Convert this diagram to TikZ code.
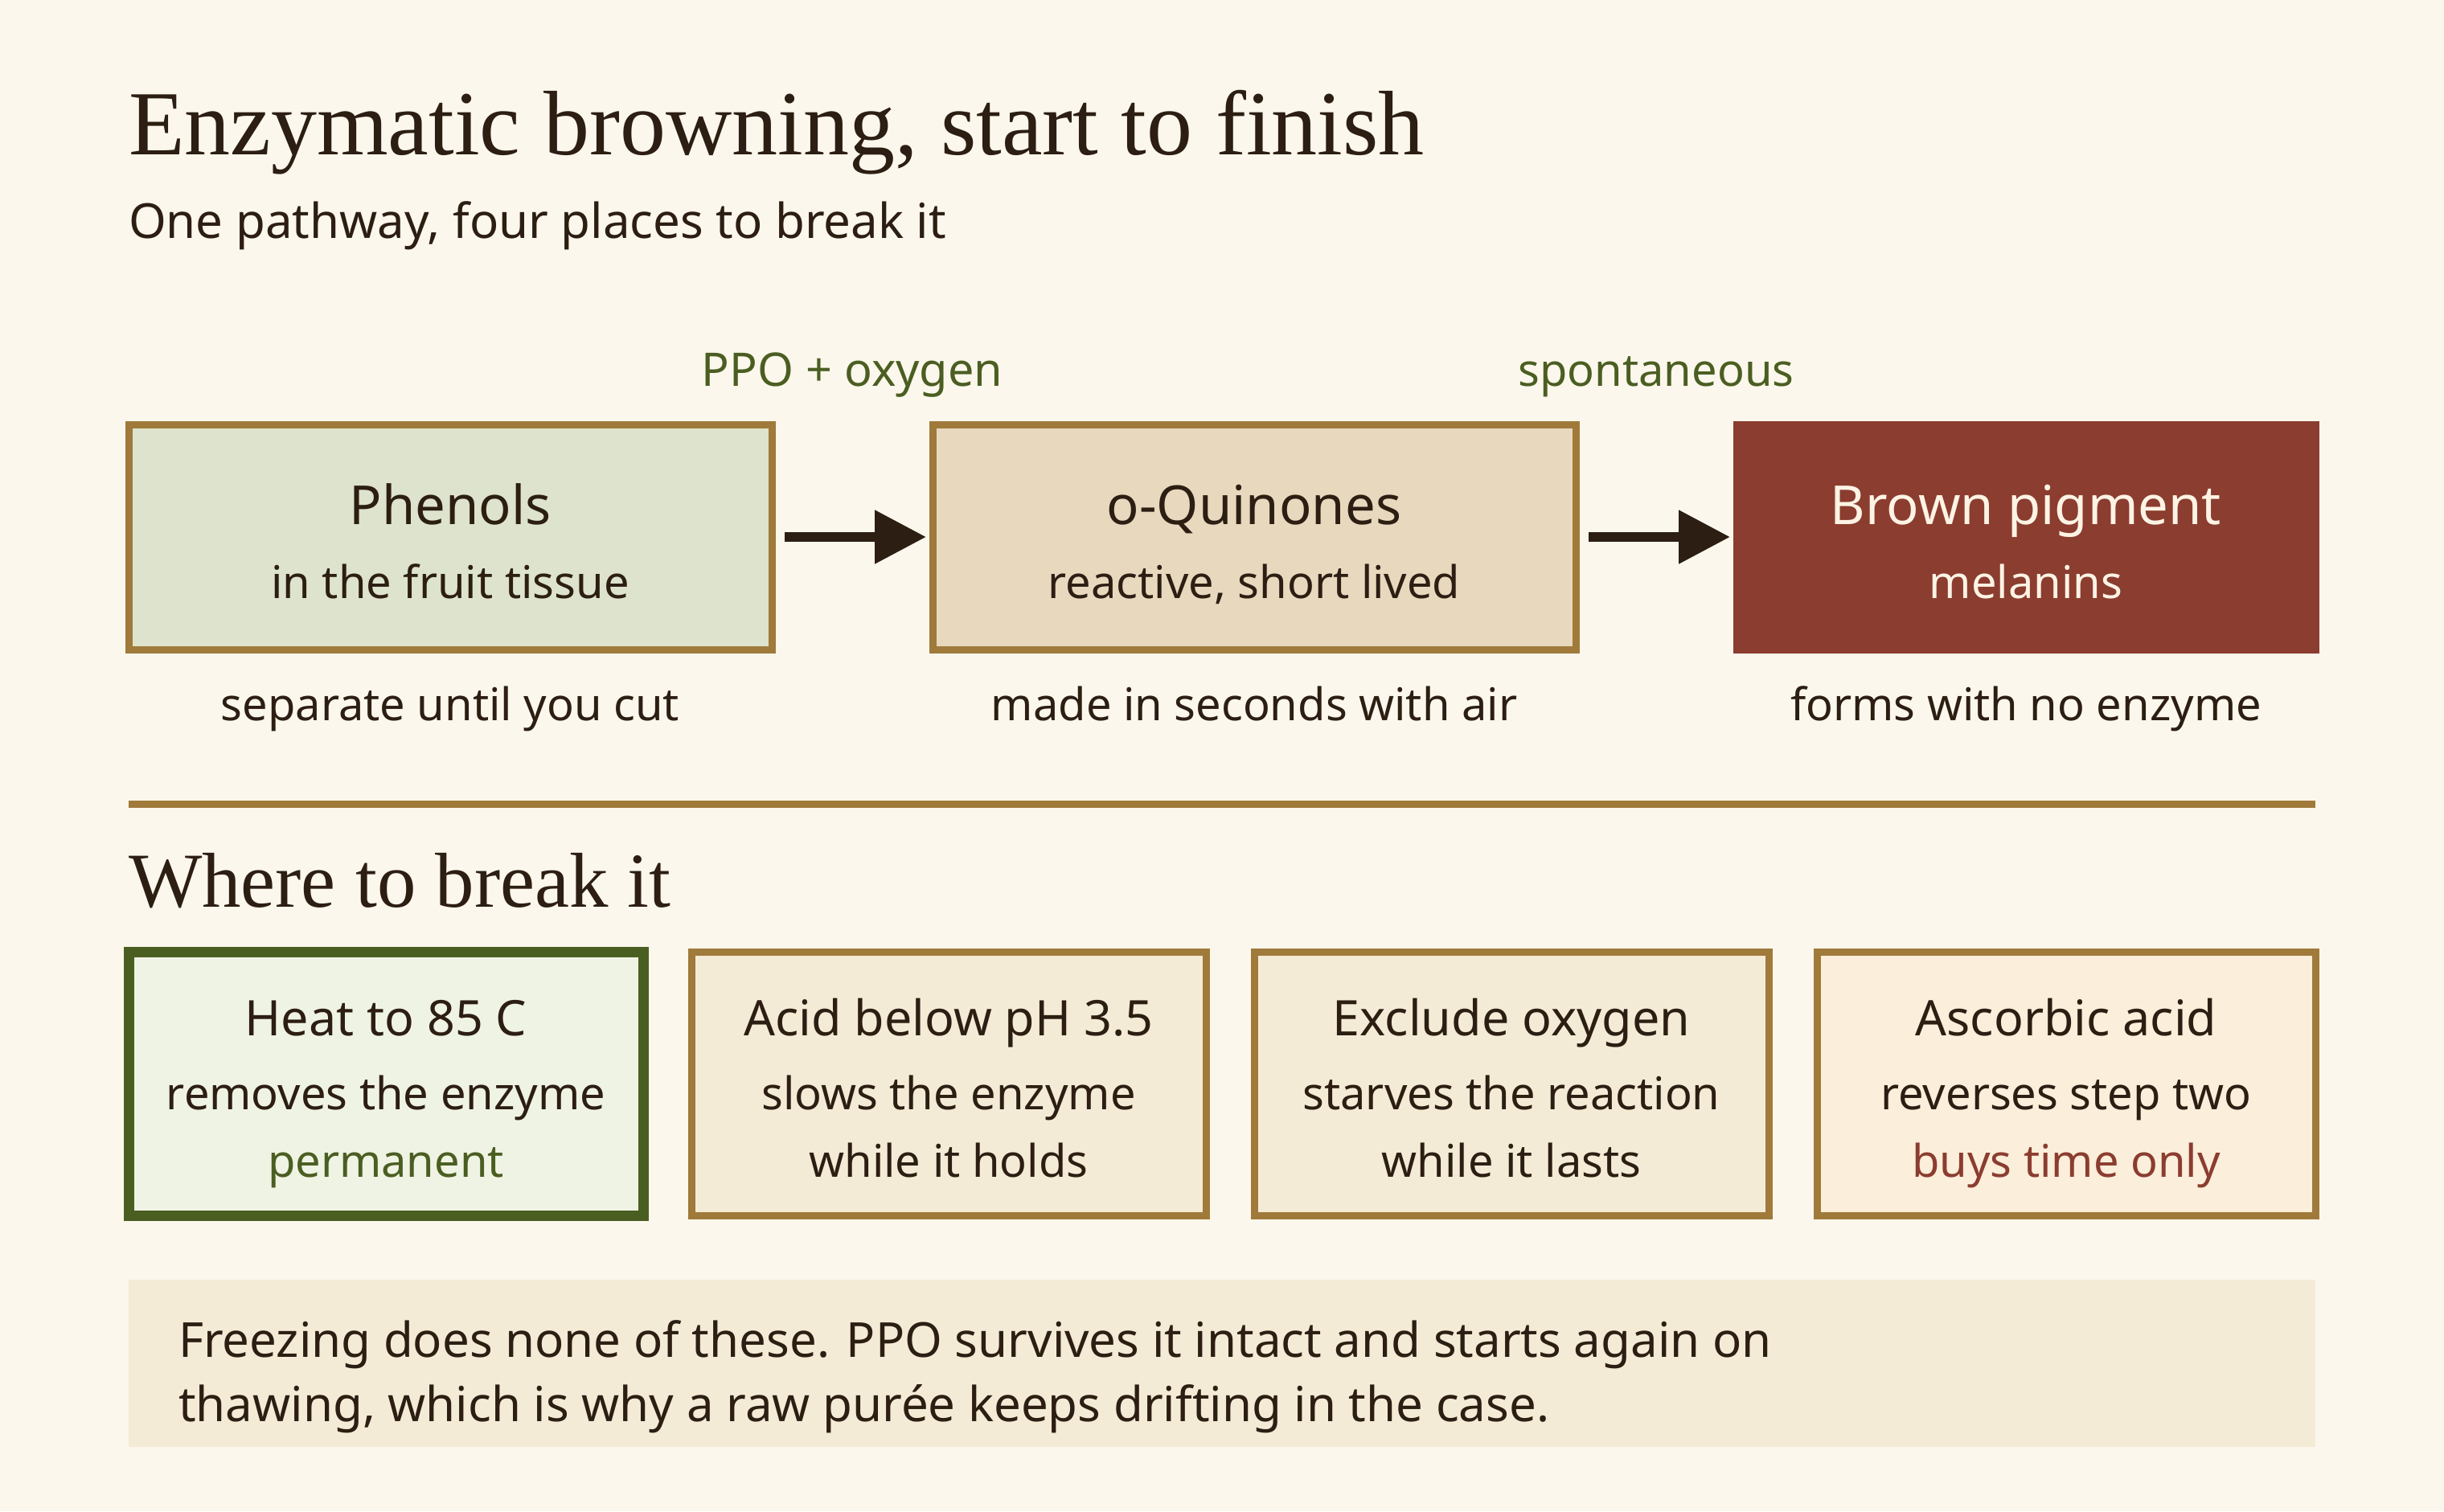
\documentclass[tikz,border=0pt]{standalone}
\usepackage{fontspec}
\setmainfont{Noto Sans}
\newfontfamily\headfont{Liberation Serif}
\usetikzlibrary{arrows.meta}
\definecolor{bg}{HTML}{FCF7EC}
\definecolor{ink}{HTML}{2C1E12}
\definecolor{gold}{HTML}{A07A3A}
\definecolor{phenfill}{HTML}{DDE3CC}
\definecolor{quinfill}{HTML}{E8D8BE}
\definecolor{brownc}{HTML}{8B3D30}
\definecolor{creamtxt}{HTML}{FCF3E4}
\definecolor{greenc}{HTML}{4B5E22}
\definecolor{heatfill}{HTML}{EFF3E3}
\definecolor{optfill}{HTML}{F4EBD6}
\definecolor{ascfill}{HTML}{FBEEDA}
\definecolor{notefill}{HTML}{F4EBD6}
\newcommand{\fs}[1]{\fontsize{#1}{#1}\selectfont}
\tikzset{
  stagebox/.style={draw=gold, line width=4.5pt, inner sep=0pt, outer sep=0pt,
    minimum height=140pt, rectangle},
  optbox/.style={draw=gold, line width=4.5pt, inner sep=0pt, outer sep=0pt,
    minimum height=164pt, rectangle, fill=optfill},
  txt/.style={inner sep=0pt, outer sep=0pt, text=ink, anchor=base},
  boxtitle/.style={txt, font=\fs{33.5}},
  boxsub/.style={txt, font=\fs{28}},
  opttitle/.style={txt, font=\fs{30.5}},
  optline/.style={txt, font=\fs{28}},
  arr/.style={draw=ink, line width=6pt, -{Triangle[length=32pt,width=32pt]},
    shorten <=8pt, shorten >=4pt},
}
\begin{document}
\begin{tikzpicture}[x=1pt, y=-1pt]
\useasboundingbox (0,0) rectangle (1520,940);
\fill[bg] (0,0) rectangle (1520,940);

% title
\node[txt, anchor=base west, font={\headfont\fs{57}}] (title) at (80,96) {Enzymatic browning, start to finish};
\node[txt, anchor=base west, font=\fs{30}] (subtitle) at (80,148) {One pathway, four places to break it};

% stage boxes
\node[stagebox, fill=phenfill, minimum width=400pt] (phen) at (280,334) {};
\node[stagebox, fill=quinfill, minimum width=400pt] (quin) at (780,334) {};
\node[stagebox, fill=brownc, draw=brownc, minimum width=360pt] (brown) at (1260,334) {};

\node[boxtitle] (phenT) at (280,326) {Phenols};
\node[boxsub] (phenS) at (280,372) {in the fruit tissue};
\node[boxtitle] (quinT) at (780,326) {o-Quinones};
\node[boxsub] (quinS) at (780,372) {reactive, short lived};
\node[boxtitle, text=creamtxt] (brownT) at (1260,326) {Brown pigment};
\node[boxsub, text=creamtxt] (brownS) at (1260,372) {melanins};

\node[boxsub] (phenN) at (280,448) {separate until you cut};
\node[boxsub] (quinN) at (780,448) {made in seconds with air};
\node[boxsub] (brownN) at (1260,448) {forms with no enzyme};

% arrows and labels
\draw[arr] (phen.east) -- (quin.west);
\draw[arr] (quin.east) -- (brown.west);
\node[boxsub, text=greenc, font=\fs{28.8}] (lab1) at (530,240) {PPO + oxygen};
\node[boxsub, text=greenc] (lab2) at (1030,240) {spontaneous};

% divider
\coordinate (dl) at (80,500);
\coordinate (dr) at (1440,500);
\draw[gold, line width=4.5pt] (dl) -- (dr);

\node[txt, anchor=base west, font={\headfont\fs{48.4}}] (where) at (80,564) {Where to break it};

% option boxes
\node[optbox, fill=heatfill, draw=greenc, line width=6.5pt, minimum width=320pt] (heat) at (240,674) {};
\node[optbox, minimum width=320pt] (acid) at (590,674) {};
\node[optbox, minimum width=320pt] (oxy) at (940,674) {};
\node[optbox, fill=ascfill, minimum width=310pt] (asc) at (1285,674) {};

\node[opttitle] (heatT) at (240,644) {Heat to 85 C};
\node[optline] (heatA) at (240,690) {removes the enzyme};
\node[optline, text=greenc] (heatB) at (240,732) {permanent};

\node[opttitle] (acidT) at (590,644) {Acid below pH 3.5};
\node[optline] (acidA) at (590,690) {slows the enzyme};
\node[optline] (acidB) at (590,732) {while it holds};

\node[opttitle] (oxyT) at (940,644) {Exclude oxygen};
\node[optline] (oxyA) at (940,690) {starves the reaction};
\node[optline] (oxyB) at (940,732) {while it lasts};

\node[opttitle] (ascT) at (1285,644) {Ascorbic acid};
\node[optline] (ascA) at (1285,690) {reverses step two};
\node[optline, text=brownc] (ascB) at (1285,732) {buys time only};

% note
\node[fill=notefill, inner sep=0pt, outer sep=0pt, minimum width=1360pt, minimum height=104pt] (note) at (760,848) {};
\node[txt, anchor=base west, font=\fs{30}] (noteA) at (111,844) {Freezing does none of these. PPO survives it intact and starts again on};
\node[txt, anchor=base west, font=\fs{30}] (noteB) at (111,884) {thawing, which is why a raw purée keeps drifting in the case.};
\end{tikzpicture}
\end{document}
